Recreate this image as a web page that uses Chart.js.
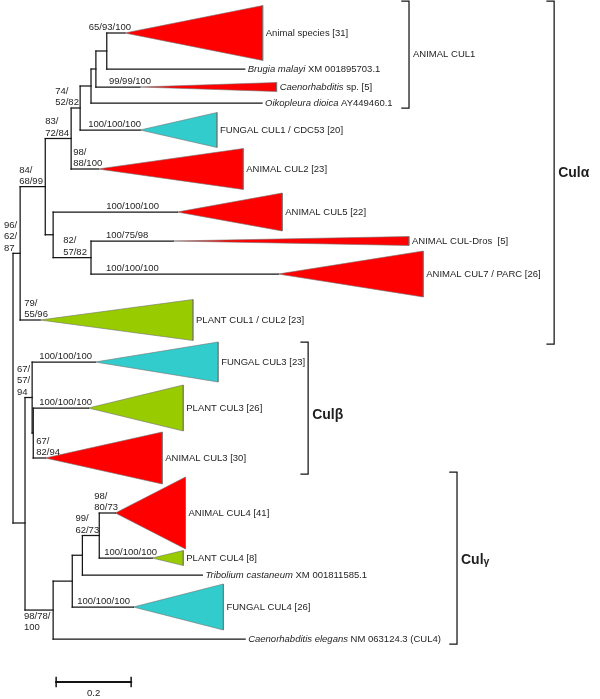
<!DOCTYPE html>
<html>
<head>
<meta charset="utf-8">
<script src="https://cdn.jsdelivr.net/npm/chart.js"></script>
<style>
  html, body { margin: 0; padding: 0; background: #fff; }
  #wrap { width: 600px; height: 699px; }
</style>
</head>
<body>
<div id="wrap"><canvas id="tree" width="600" height="699"></canvas></div>
<script>
// Cullin tree - branch lengths in substitutions per site, rows = vertical layout units

// internal nodes (parent must come first)
const innerIds     = ['R', 'N9', 'N8', 'N5', 'N4', 'N3', 'N2', 'N1', 'N7', 'N6', 'N16', 'N11', 'N10', 'N15', 'N14', 'N13', 'N12'];
const innerParents = [null, 'R', 'N9', 'N8', 'N5', 'N4', 'N3', 'N2', 'N8', 'N7', 'R', 'N16', 'N11', 'N16', 'N15', 'N14', 'N13'];
const innerLengths = [0, 0.019, 0.067, 0.069, 0.024, 0.029, 0.013, 0.029, 0.021, 0.101, 0.032, 0.019, 0.003, 0.075, 0.051, 0.027, 0.045];
const rowOverride  = { N16: 52.3 };

// leaves (single sequences or collapsed clades)
const leafItalic = ['', 'Brugia malayi', 'Caenorhabditis', 'Oikopleura dioica', '', '', '', '', '', '', '', '', '', '', '', 'Tribolium castaneum', '', 'Caenorhabditis elegans'];
const leafPlain  = ['Animal species [31]', 'XM 001895703.1', 'sp. [5]', 'AY449460.1', 'FUNGAL CUL1 / CDC53 [20]', 'ANIMAL CUL2 [23]',
  'ANIMAL CUL5 [22]', 'ANIMAL CUL-Dros  [5]', 'ANIMAL CUL7 / PARC [26]', 'PLANT CUL1 / CUL2 [23]', 'FUNGAL CUL3 [23]', 'PLANT CUL3 [26]',
  'ANIMAL CUL3 [30]', 'ANIMAL CUL4 [41]', 'PLANT CUL4 [8]', 'XM 001811585.1', 'FUNGAL CUL4 [26]', 'NM 063124.3 (CUL4)'];
const leafParents = ['N1', 'N1', 'N2', 'N3', 'N4', 'N5', 'N7', 'N6', 'N6', 'N9', 'N11', 'N10', 'N10', 'N12', 'N12', 'N13', 'N14', 'N15'];
const leafLengths = [0.048, 0.368, 0.117, 0.456, 0.160, 0.072, 0.331, 0.219, 0.499, 0.053, 0.168, 0.147, 0.032, 0.043, 0.141, 0.320, 0.163, 0.512];
const leafRows    = [3.3, 6.9, 8.7, 10.3, 13.0, 16.9, 21.2, 24.1, 27.4, 32.0, 36.2, 40.8, 45.8, 51.3, 55.8, 57.5, 60.7, 63.9];
const cladeDepth  = [0.368, 0, 0.365, 0, 0.205, 0.387, 0.280, 0.629, 0.387, 0.408, 0.328, 0.253, 0.312, 0.187, 0.083, 0, 0.240, 0];
const cladeHalf   = [2.75, 0, 0.45, 0, 1.75, 2.05, 1.9, 0.45, 2.3, 2.05, 2.0, 2.3, 2.6, 3.6, 0.75, 0, 2.3, 0];
const leafKind    = ['animal', 'seq', 'animal', 'seq', 'fungal', 'animal', 'animal', 'animal', 'animal', 'plant', 'fungal', 'plant', 'animal', 'animal', 'plant', 'seq', 'fungal', 'seq'];

// bootstrap supports (NJ/MP/ML), shown on the branch leading to the node
const supportNodes = ['L0', 'L2', 'N4', 'L4', 'N5', 'L5', 'N8', 'L6', 'N9', 'N6', 'L7', 'L8', 'L9', 'L10', 'N11', 'L11', 'L12', 'L13', 'N12', 'L14', 'L16', 'N15'];
const supportTexts = ['65/93/100', '99/99/100', '74/\n52/82', '100/100/100', '83/\n72/84', '98/\n88/100', '84/\n68/99', '100/100/100',
  '96/\n62/\n87', '82/\n57/82', '100/75/98', '100/100/100', '79/\n55/96', '100/100/100', '67/\n57/\n94', '100/100/100', '67/\n82/94',
  '98/\n80/73', '99/\n62/73', '100/100/100', '100/100/100', '98/78/\n100'];

// groups
const groupNames = ['ANIMAL CUL1', 'Culα', 'Culβ', 'Cul'];
const groupSub   = ['', '', '', 'γ'];
const groupSpans = [[0.1, 10.8], [0.1, 34.4], [34.2, 47.4], [47.2, 64.4]];

const scaleBarLength = 0.2;

// ---- layout / style ----
const colors = { animal: '#ff0000', fungal: '#33cccc', plant: '#99cc00' };
const lineColor = '#151515';
const font = '"Liberation Sans", Arial, sans-serif';
const groupX = [1.056, 1.443, 0.787, 1.184];
const groupLabelRow = [5.4, 17.3, 41.5, 56.0];
const scaleBarStart = 0.115, scaleBarRow = 68.2;
const supportDx = { L0: -18, L2: 13, N4: -16, L4: 8, N5: 0, L5: 2, N8: -1, L6: 53, N9: -9, N6: 10, L7: 15, L8: 15, L9: 4,
  L10: 7, N11: -8, L11: 6, L12: 3, L13: -5, N12: -7, L14: 5, L16: 5, N15: -1 };
const supportBelow = ['N15'];

// ---- build tree geometry ----
const dist = {}, row = {}, parentOf = {}, children = {};
innerIds.forEach((id, i) => {
  const p = innerParents[i];
  parentOf[id] = p;
  dist[id] = (p ? dist[p] : 0) + innerLengths[i];
  children[id] = [];
  if (p) children[p].push(id);
});
leafParents.forEach((p, i) => {
  const id = 'L' + i;
  parentOf[id] = p;
  dist[id] = dist[p] + leafLengths[i];
  row[id] = leafRows[i];
  children[p].push(id);
});
function rowOf(id) {
  if (row[id] !== undefined) return row[id];
  const rs = children[id].map(rowOf);
  row[id] = rowOverride[id] !== undefined ? rowOverride[id] : (Math.min(...rs) + Math.max(...rs)) / 2;
  return row[id];
}
rowOf('R');

const lineDs = pts => ({
  data: pts, showLine: true, pointRadius: 0, borderColor: lineColor, borderWidth: 1.25,
  borderCapStyle: 'square', tension: 0, fill: false
});

const datasets = [];
// horizontal branches
Object.keys(parentOf).forEach(id => {
  const p = parentOf[id];
  if (!p) return;
  datasets.push(lineDs([{ x: dist[p], y: row[id] }, { x: dist[id], y: row[id] }]));
});
// vertical connectors
innerIds.forEach(id => {
  const rs = children[id].map(c => row[c]);
  datasets.push(lineDs([{ x: dist[id], y: Math.min(...rs) }, { x: dist[id], y: Math.max(...rs) }]));
});
// collapsed clades
leafKind.forEach((k, i) => {
  if (k === 'seq') return;
  const id = 'L' + i, a = dist[id], r = row[id], d = cladeDepth[i], h = cladeHalf[i];
  datasets.push({
    data: [{ x: a, y: r }, { x: a + d, y: r - h }, { x: a + d, y: r + h }, { x: a, y: r }],
    showLine: true, pointRadius: 0, tension: 0, fill: 'shape',
    backgroundColor: colors[k], borderColor: '#707070', borderWidth: 0.6
  });
});
// group brackets
groupSpans.forEach((s, i) => {
  const tick = 0.019;
  datasets.push(lineDs([
    { x: groupX[i] - tick, y: s[0] }, { x: groupX[i], y: s[0] },
    { x: groupX[i], y: s[1] }, { x: groupX[i] - tick, y: s[1] }
  ]));
});
// scale bar
datasets.push(lineDs([{ x: scaleBarStart, y: scaleBarRow }, { x: scaleBarStart + scaleBarLength, y: scaleBarRow }]));
datasets[datasets.length - 1].borderWidth = 2;
[scaleBarStart, scaleBarStart + scaleBarLength].forEach(v => {
  const ds = lineDs([{ x: v, y: scaleBarRow - 0.45 }, { x: v, y: scaleBarRow + 0.45 }]);
  ds.borderWidth = 1.5;
  datasets.push(ds);
});

const annotate = {
  id: 'annotate',
  afterDatasetsDraw(chart) {
    const ctx = chart.ctx, xs = chart.scales.x, ys = chart.scales.y;
    const px = v => xs.getPixelForValue(v), py = v => ys.getPixelForValue(v);
    ctx.save();
    ctx.fillStyle = '#1e1e1e';

    // leaf labels
    ctx.textBaseline = 'middle';
    ctx.textAlign = 'left';
    leafPlain.forEach((txt, i) => {
      const id = 'L' + i;
      let x = px(dist[id] + cladeDepth[i]) + 3;
      const y = py(row[id]);
      if (leafItalic[i]) {
        ctx.font = 'italic 9.5px ' + font;
        ctx.fillText(leafItalic[i], x, y);
        x += ctx.measureText(leafItalic[i] + ' ').width;
      }
      ctx.font = '9.5px ' + font;
      ctx.fillText(txt, x, y);
    });

    // support values
    ctx.font = '9.5px ' + font;
    supportNodes.forEach((id, i) => {
      const lines = supportTexts[i].split('\n');
      const x = px(dist[parentOf[id]]) + supportDx[id];
      const y = py(row[id]);
      if (supportBelow.includes(id)) {
        ctx.textBaseline = 'top';
        lines.forEach((l, j) => ctx.fillText(l, x, y + 2 + j * 11));
      } else {
        ctx.textBaseline = 'bottom';
        lines.forEach((l, j) => ctx.fillText(l, x, y - 0.5 - (lines.length - 1 - j) * 11.5));
      }
    });

    // group labels
    ctx.textBaseline = 'middle';
    groupNames.forEach((g, i) => {
      const x = px(groupX[i]) + 4;
      const y = py(groupLabelRow[i]);
      if (i === 0) {
        ctx.font = '9.5px ' + font;
        ctx.fillText(g, x, y);
        return;
      }
      ctx.font = 'bold 14px ' + font;
      ctx.fillText(g, x, y);
      if (groupSub[i]) {
        const w = ctx.measureText(g).width;
        ctx.font = 'bold 10.5px ' + font;
        ctx.fillText(groupSub[i], x + w, y + 2);
      }
    });

    // scale bar label
    ctx.font = '9.5px ' + font;
    ctx.textAlign = 'center';
    ctx.textBaseline = 'middle';
    ctx.fillText(String(scaleBarLength), px(scaleBarStart + scaleBarLength / 2), py(scaleBarRow + 1.1));
    ctx.restore();
  }
};

new Chart(document.getElementById('tree'), {
  type: 'scatter',
  data: { datasets },
  options: {
    responsive: false,
    devicePixelRatio: 1,
    animation: false,
    events: [],
    layout: { padding: 0 },
    plugins: { legend: { display: false }, tooltip: { enabled: false } },
    scales: {
      x: { type: 'linear', display: false, min: -0.0347, max: 1.5653 },
      y: { type: 'linear', display: false, min: 0, max: 69.9, reverse: true }
    }
  },
  plugins: [annotate]
});
</script>
</body>
</html>
